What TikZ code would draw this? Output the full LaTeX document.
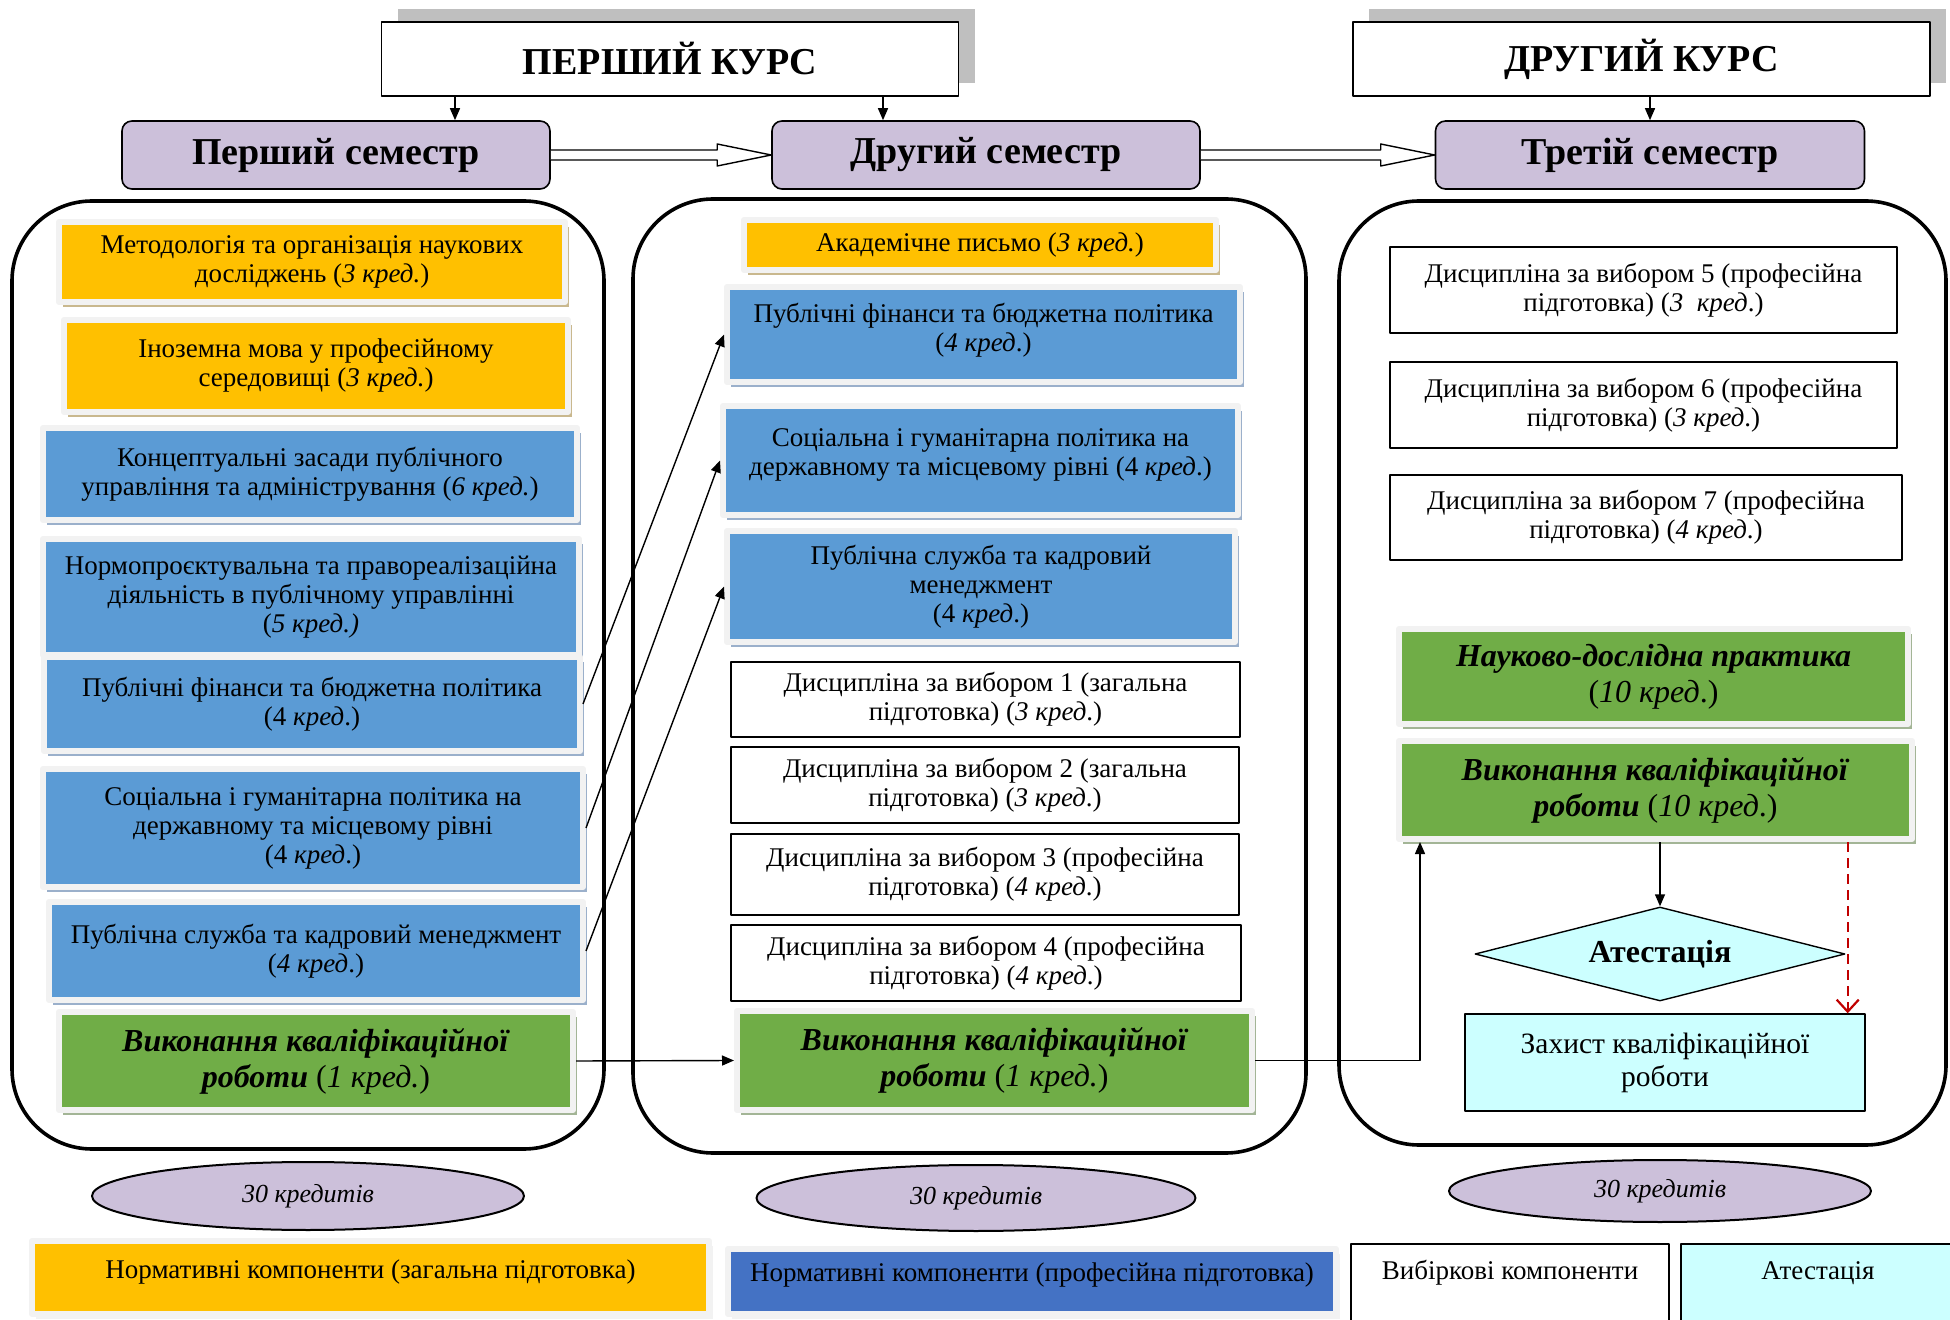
\documentclass[tikz,border=0pt]{standalone}
\usepackage{fontspec}
\setmainfont{Liberation Serif}
\usetikzlibrary{arrows.meta,shapes.geometric,shadows}
\definecolor{zagC}{HTML}{FFC000}
\definecolor{zagT}{HTML}{C9B88E}
\definecolor{profC}{HTML}{5B9BD5}
\definecolor{profT}{HTML}{9BB0CB}
\definecolor{legprofC}{HTML}{4472C4}
\definecolor{zelC}{HTML}{70AD47}
\definecolor{zelT}{HTML}{A3B596}
\definecolor{semC}{HTML}{CCC0DA}
\definecolor{atC}{HTML}{CCFFFF}
\definecolor{ramkaC}{HTML}{F2F2F2}
\definecolor{tinC}{HTML}{BFBFBF}
\definecolor{chervC}{HTML}{C00000}
\begin{document}
\begin{tikzpicture}[x=1pt,y=-1pt,>={Triangle[length=6pt,width=5pt]},line join=round,
	font=\fontsize{13.5}{14.5}\selectfont,
	wh/.style 2 args={minimum width=#1pt,minimum height=#2pt},
	kurs/.style={draw,fill=white,line width=0.8pt,inner sep=0pt,font=\bfseries\fontsize{19}{22}\selectfont,
		general shadow={fill=tinC,shadow xshift=8pt,shadow yshift=6.5pt}},
	sem/.style={draw,fill=semC,rounded corners=5pt,line width=0.8pt,inner sep=0pt,font=\bfseries\fontsize{19}{22}\selectfont},
	konteiner/.style={draw,line width=1.8pt,rounded corners=40pt,inner sep=0pt},
	blok/.style 2 args={fill=#1,draw=ramkaC,line width=3pt,align=center,inner sep=0pt,
		general shadow={fill=#2,shadow xshift=2pt,shadow yshift=-2.5pt}},
	vybir/.style={draw,fill=white,line width=0.7pt,align=center,inner sep=0pt},
	kv/.style={font=\fontsize{16}{18}\selectfont},
	ovl/.style={ellipse,draw,fill=semC,line width=1pt,inner sep=0pt,font=\itshape\fontsize{13}{15}\selectfont},
	leg/.style={inner sep=0pt,text height=9.5pt,text depth=#1}]
	\useasboundingbox (0,0) rectangle (975,660);
	% kursy i semestry
	\node[kurs,wh={288.5}{37}] (kurs1) at (335,29.5) {ПЕРШИЙ КУРС};
	\node[kurs,wh={288.5}{37}] (kurs2) at (820.75,29.5) {ДРУГИЙ КУРС};
	\node[sem,wh={214}{34}] (sem1) at (168,77.5) {Перший семестр};
	\node[sem,wh={214}{34}] (sem2) at (493,77.5) {Другий семестр};
	\node[sem,wh={214.5}{34}] (sem3) at (825,77.5) {Третій семестр};
	% ramky
	\node[konteiner,wh={296}{474}] (ramka1) at (154,337.5) {};
	\node[konteiner,wh={336.5}{477}] (ramka2) at (484.75,338) {};
	\node[konteiner,wh={303.5}{472}] (ramka3) at (821.25,336.5) {};
	% pershyi semestr
	\node[blok={zagC}{zagT},wh={253}{40}] (l-met) at (156,131) {Методологія та організація наукових\\досліджень (\textit{3 кред.})};
	\node[blok={zagC}{zagT},wh={252}{46}] (l-ino) at (158,183) {Іноземна мова у професійному\\середовищі (\textit{3 кред.})};
	\node[blok={profC}{profT},wh={267}{46}] (l-konc) at (155,237) {Концептуальні засади публічного\\управління та адміністрування (\textit{6 кред.})};
	\node[blok={profC}{profT},wh={268}{58}] (l-norm) at (155.5,298.5) {Нормопроєктувальна та правореалізаційна\\діяльність в публічному управлінні\\(\textit{5 кред.)}};
	\node[blok={profC}{profT},wh={268}{47}] (l-fin) at (156,352) {Публічні фінанси та бюджетна політика\\(4 \textit{кред}.)};
	\node[blok={profC}{profT},wh={270}{59}] (l-soc) at (156.5,414) {Соціальна і гуманітарна політика на\\державному та місцевому рівні\\(4 \textit{кред}.)};
	\node[blok={profC}{profT},wh={267}{49}] (l-sl) at (158,475.5) {Публічна служба та кадровий менеджмент\\(\textit{4 кред}.)};
	\node[blok={zelC}{zelT},kv,wh={257}{49}] (l-vyk) at (158,530.5) {\textbf{\textit{Виконання кваліфікаційної}}\\\textbf{\textit{роботи}} (\textit{1 кред.})};
	% druhyi semestr
	\node[blok={zagC}{zagT},wh={236}{25}] (m-akad) at (490,122.5) {Академічне письмо (\textit{3 кред.})};
	\node[blok={profC}{profT},wh={256.5}{47.5}] (m-fin) at (491.75,167.25) {Публічні фінанси та бюджетна політика\\(\textit{4 кред}.)\\[-7.5pt]};
	\node[blok={profC}{profT},wh={257.5}{54.5}] (m-soc) at (490.25,230.25) {Соціальна і гуманітарна політика на\\державному та місцевому рівні (4 \textit{кред}.)\\[-6.5pt]};
	\node[blok={profC}{profT},wh={254}{55.5}] (m-sl) at (490.5,293.25) {Публічна служба та кадровий\\менеджмент\\(4 \textit{кред}.)};
	\node[vybir,wh={254.5}{37.5}] (m-d1) at (492.75,349.75) {Дисципліна за вибором 1 (загальна\\підготовка) (\textit{3 кред}.)};
	\node[vybir,wh={254}{38}] (m-d2) at (492.5,392.5) {Дисципліна за вибором 2 (загальна\\підготовка) (\textit{3 кред}.)};
	\node[vybir,wh={254}{40.5}] (m-d3) at (492.5,437.25) {Дисципліна за вибором 3 (професійна\\підготовка) (\textit{4 кред}.)};
	\node[vybir,wh={255}{38}] (m-d4) at (493,481.5) {Дисципліна за вибором 4 (професійна\\підготовка) (\textit{4 кред}.)};
	\node[blok={zelC}{zelT},kv,wh={257.5}{49.5}] (m-vyk) at (497.25,530.25) {\textbf{\textit{Виконання кваліфікаційної}}\\\textbf{\textit{роботи}} (\textit{1 кред.})};
	% tretii semestr
	\node[vybir,wh={253.5}{43}] (r-d5) at (821.75,145) {Дисципліна за вибором 5 (професійна\\підготовка) (\textit{3\ \ кред}.)};
	\node[vybir,wh={253.5}{43}] (r-d6) at (821.75,202.5) {Дисципліна за вибором 6 (професійна\\підготовка) (\textit{3 кред}.)};
	\node[vybir,wh={256}{42.5}] (r-d7) at (823,258.75) {Дисципліна за вибором 7 (професійна\\підготовка) (\textit{4 кред}.)};
	\node[blok={zelC}{zelT},kv,wh={254.5}{47.5}] (r-prakt) at (826.75,338.25) {\textbf{\textit{Науково-дослідна практика}}\\(\textit{10 кред}.)};
	\node[blok={zelC}{zelT},kv,wh={256.5}{49}] (r-vyk) at (827.75,395) {\textbf{\textit{Виконання кваліфікаційної}}\\\textbf{\textit{роботи}} (\textit{10 кред}.)};
	\node[diamond,aspect=3.9,draw,fill=atC,line width=0.7pt,inner sep=0pt,wh={185}{47},font=\bfseries\fontsize{16}{18}\selectfont] (r-atest) at (830,477) {Атестація};
	\node[vybir,fill=atC,wh={200}{48.5},font=\fontsize{14.75}{16.5}\selectfont] (r-zakh) at (832.5,531.25) {Захист кваліфікаційної\\роботи};
	% kredyty
	\node[ovl,wh={216}{34}] (ov1) at (154,598) {30 кредитів};
	\node[ovl,wh={219.5}{33}] (ov2) at (488,599) {30 кредитів};
	\node[ovl,wh={211}{31}] (ov3) at (830,595.5) {30 кредитів};
	% lehenda
	\node[blok={zagC}{ramkaC},leg=9pt,wh={338.5}{36.5}] (lg1) at (185.25,638.75) {Нормативні компоненти (загальна підготовка)};
	\node[blok={legprofC}{ramkaC},leg=9.5pt,wh={304}{32.5}] (lg2) at (516,640.75) {Нормативні компоненти (професійна підготовка)};
	\node[vybir,leg=14.5pt,wh={159}{40}] (lg3) at (755,642) {Вибіркові компоненти};
	\node[vybir,fill=atC,leg=14.5pt,wh={137}{40}] (lg4) at (909,642) {Атестація};
	% strilky
	\coordinate (k1a) at ([xshift=-107.5pt]kurs1.south);
	\coordinate (k1b) at ([xshift=106.5pt]kurs1.south);
	\draw[->,line width=0.7pt] (k1a) -- (k1a |- sem1.north);
	\draw[->,line width=0.7pt] (k1b) -- (k1b |- sem2.north);
	\draw[->,line width=0.7pt] (kurs2.south -| sem3.north) -- (sem3.north);
	\foreach \a/\b in {sem1/sem2,sem2/sem3}
		\draw[fill=white,line width=0.7pt] ([yshift=2.5pt]\a.east) -- ([xshift=-27pt,yshift=2.5pt]\b.west)
			-- ([xshift=-27pt,yshift=5.5pt]\b.west) -- (\b.west) -- ([xshift=-27pt,yshift=-5.5pt]\b.west)
			-- ([xshift=-27pt,yshift=-2.5pt]\b.west) -- ([yshift=-2.5pt]\a.east);
	\foreach \n in {fin,soc,sl}
		\draw[->,line width=0.7pt] (l-\n.east) -- (m-\n.west);
	\draw[->,line width=0.7pt] (l-vyk.east) -- (m-vyk.west);
	\coordinate (vg) at ([xshift=12pt]r-vyk.south west);
	\draw[->,line width=0.7pt] (m-vyk.east) -| (vg);
	\draw[->,line width=0.7pt] (r-vyk.south -| r-atest.north) -- (r-atest.north);
	\coordinate (chv) at ([xshift=-9pt]r-zakh.north east);
	\draw[chervC,line width=1.1pt,dash pattern=on 5pt off 3pt,-{Straight Barb[length=6pt,width=11pt]}] (chv |- r-vyk.south) -- (chv);
\end{tikzpicture}
\end{document}
